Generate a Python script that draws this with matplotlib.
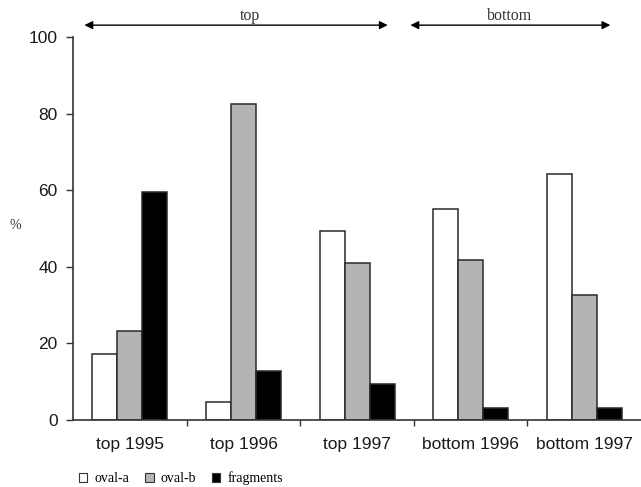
import numpy as np
import matplotlib
matplotlib.use("Agg")
import matplotlib.pyplot as plt
from matplotlib.patches import Patch

# values
categories = ["top 1995", "top 1996", "top 1997", "bottom 1996", "bottom 1997"]
oval_a = [17.2, 4.6, 49.3, 55.0, 64.3]
oval_b = [23.2, 82.5, 41.1, 41.9, 32.6]
fragments = [59.5, 12.8, 9.4, 3.2, 3.1]
series_names = ["oval-a", "oval-b", "fragments"]
series_colors = ["white", "#b4b4b4", "black"]

fig = plt.figure(figsize=(6.41, 4.87), dpi=100)
ax = fig.add_axes([0.114, 0.1376, 0.886, 0.7864])

x = np.arange(len(categories))
w = 0.22
for i, (vals, col) in enumerate(zip([oval_a, oval_b, fragments], series_colors)):
    ax.bar(x + (i - 1) * w, vals, w, color=col, edgecolor="#2a2a2a", linewidth=1.1)

ax.set_xlim(-0.5, len(categories) - 0.5)
ax.set_ylim(0, 100)
ax.spines["top"].set_visible(False)
ax.spines["right"].set_visible(False)
for s in ("left", "bottom"):
    ax.spines[s].set_linewidth(1.2)
    ax.spines[s].set_color("#333333")

ax.set_yticks([0, 20, 40, 60, 80, 100])
ax.tick_params(axis="y", length=5, width=1, colors="#333333", labelsize=12.5, pad=6)
ax.set_xticks(x)
ax.set_xticklabels(categories)
ax.tick_params(axis="x", which="major", length=0, labelsize=12.5, pad=12)
ax.set_xticks(np.arange(0.5, len(categories) - 0.5), minor=True)
ax.tick_params(axis="x", which="minor", length=4, width=1, colors="#333333")
for lab in ax.get_xticklabels() + ax.get_yticklabels():
    lab.set_fontfamily("Liberation Sans")
    lab.set_color("#1a1a1a")

fig.text(0.024, 0.537, "%", fontsize=10, family="Liberation Serif", color="#333333",
         ha="center", va="center")

# group arrows above the plot
trans = ax.get_xaxis_transform()
groups = [("top", -0.40, 2.27, 1.06), ("bottom", 2.47, 4.23, 3.34)]
for name, x0, x1, xt in groups:
    ax.annotate("", xy=(x0, 1.031), xytext=(x1, 1.031), xycoords=trans, textcoords=trans,
                arrowprops=dict(arrowstyle="<|-|>", color="black", lw=1.0,
                                mutation_scale=12, shrinkA=0, shrinkB=0),
                annotation_clip=False)
    ax.text(xt, 1.034, name, transform=trans, ha="center", va="bottom",
            fontsize=11.5, family="Liberation Serif", color="#333333")

handles = [Patch(facecolor=c, edgecolor="#333333", linewidth=0.8) for c in series_colors]
fig.legend(handles, series_names, loc="center left", bbox_to_anchor=(0.104, 0.018),
           ncol=3, frameon=False, prop={"family": "Liberation Serif", "size": 10},
           handlelength=0.6, handleheight=0.6, handletextpad=0.5, columnspacing=1.15)

fig.savefig("out.png", dpi=100)
